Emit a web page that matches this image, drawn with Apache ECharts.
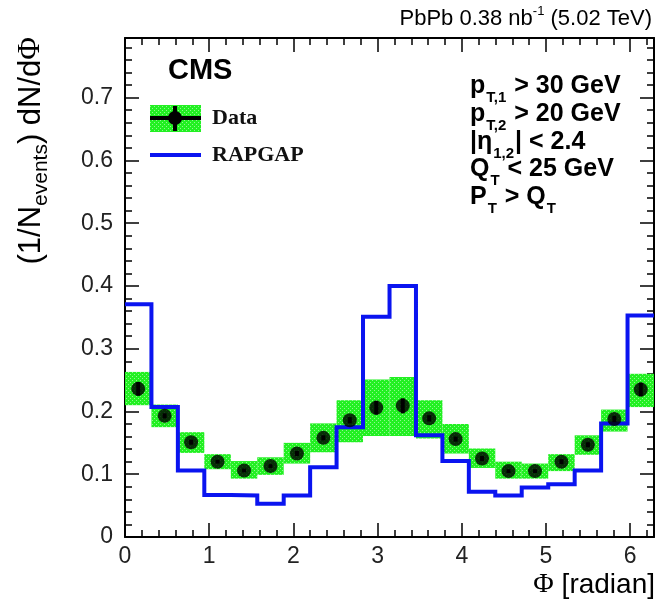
<!DOCTYPE html>
<html>
<head>
<meta charset="utf-8">
<script src="https://cdn.jsdelivr.net/npm/echarts@6/dist/echarts.min.js"></script>
<style>html,body{margin:0;padding:0;background:#fff}#c{width:658px;height:603px}</style>
</head>
<body>
<div id="c"></div>
<script>
// ---- data ----
const binEdges = [0,0.314,0.628,0.942,1.257,1.571,1.885,2.199,2.513,2.827,3.142,3.456,3.770,4.084,4.398,4.712,5.027,5.341,5.655,5.969,6.283];
const dataValues = [0.236,0.193,0.151,0.120,0.106,0.113,0.133,0.158,0.186,0.206,0.209,0.189,0.156,0.125,0.105,0.105,0.120,0.147,0.188,0.235];
const statErr = [0.011,0.004,0.004,0.003,0.003,0.003,0.004,0.004,0.005,0.011,0.012,0.005,0.004,0.004,0.003,0.003,0.004,0.004,0.005,0.011];
const systLow = [0.210,0.175,0.134,0.108,0.093,0.099,0.117,0.135,0.151,0.161,0.161,0.157,0.133,0.110,0.093,0.093,0.105,0.131,0.168,0.207];
const systHigh = [0.263,0.211,0.167,0.132,0.121,0.127,0.150,0.181,0.218,0.251,0.255,0.218,0.180,0.141,0.120,0.117,0.132,0.162,0.203,0.260];
const rapgap = [0.371,0.207,0.106,0.067,0.066,0.053,0.066,0.111,0.175,0.351,0.400,0.162,0.121,0.072,0.066,0.079,0.084,0.106,0.181,0.353];
const xTickLabels = ['0','1','2','3','4','5','6'];
const yTickLabels = ['0','0.1','0.2','0.3','0.4','0.5','0.6','0.7'];

// green dotted fill pattern
const pc = document.createElement('canvas');
pc.width = 4; pc.height = 4;
const pctx = pc.getContext('2d');
pctx.fillStyle = '#22f022'; pctx.fillRect(0,0,4,4);
pctx.fillStyle = '#8ef88e'; pctx.fillRect(0,0,1,1); pctx.fillRect(2,2,1,1);
const greenFill = {image: pc, repeat: 'repeat'};

const BLUE = '#0a14f0';
const FONT = '"Liberation Sans", Arial, Helvetica, sans-serif';
const SERIF = '"Liberation Serif", "Times New Roman", serif';

const bandData = dataValues.map((v,i)=>[binEdges[i], binEdges[i+1], systLow[i], systHigh[i]]);
const pointData = dataValues.map((v,i)=>[(binEdges[i]+binEdges[i+1])/2, v]);
const errData = dataValues.map((v,i)=>[(binEdges[i]+binEdges[i+1])/2, v-statErr[i], v+statErr[i]]);
const histData = rapgap.map((v,i)=>[binEdges[i], v]).concat([[binEdges[20], rapgap[19]]]);

function xAx(pos, interval, len, labels, line) {
  return {
    type: 'value', position: pos, min: 0, max: 6.2832, interval: interval,
    axisLine: {show: line, onZero: false, lineStyle: {color: '#000', width: 2}},
    axisTick: {show: true, inside: true, length: len, lineStyle: {color: '#000', width: 1.5}},
    axisLabel: {show: labels, margin: 8, fontSize: 23, fontFamily: FONT, color: '#222',
      formatter: v => { const s = String(Math.round(v)); return (Math.abs(v-Math.round(v))<1e-6 && xTickLabels.indexOf(s)>=0) ? s : ''; }},
    splitLine: {show: false}
  };
}
function yAx(pos, interval, len, labels, line) {
  return {
    type: 'value', position: pos, min: 0, max: 0.795, interval: interval,
    axisLine: {show: line, onZero: false, lineStyle: {color: '#000', width: 2}},
    axisTick: {show: true, inside: true, length: len, lineStyle: {color: '#000', width: 1.5}},
    axisLabel: {show: labels, margin: 12, fontSize: 23, fontFamily: FONT, color: '#222',
      formatter: v => { const s = (Math.round(v*10)/10).toString(); return (Math.abs(v*10-Math.round(v*10))<1e-6 && yTickLabels.indexOf(s)>=0) ? s : ''; }},
    splitLine: {show: false}
  };
}

const chart = echarts.init(document.getElementById('c'), null, {renderer: 'canvas'});
const cutLines = [
  ['{m|p}{s|T,1}{m| > 30 GeV}', 86],
  ['{m|p}{s|T,2}{m| > 20 GeV}', 114],
  ['{m||η}{s|1,2}{m|| < 2.4}', 142],
  ['{m|Q}{s|T}{m| < 25 GeV}', 169],
  ['{m|P}{s|T}{m| > Q}{s|T}', 197]
];
const cutRich = {
  m: {fontSize: 25, fontWeight: 'bold', fontFamily: FONT, color: '#000', lineHeight: 38, verticalAlign: 'middle'},
  s: {fontSize: 15, fontWeight: 'bold', fontFamily: FONT, color: '#000', lineHeight: 15, padding: [0, 1, 0, 1], verticalAlign: 'bottom'}
};
const graphics = [
  // top-right label
  {type: 'text', x: 652, y: 19, style: {text: '{m|PbPb 0.38 nb}{p|-1}{m| (5.02 TeV)}', align: 'right', verticalAlign: 'middle',
    rich: {m: {fontSize: 22, fontFamily: FONT, color: '#222', lineHeight: 28, verticalAlign: 'middle'},
           p: {fontSize: 13, fontFamily: FONT, color: '#222', lineHeight: 13, verticalAlign: 'top'}}}},
  // y title
  {type: 'text', x: 31, y: 37, rotation: Math.PI/2, style: {text: '{m|(1/N}{s|events}{m|) dN/d}{f|Φ}', align: 'right', verticalAlign: 'middle',
    rich: {m: {fontSize: 31, fontFamily: FONT, color: '#222', lineHeight: 42, verticalAlign: 'middle'},
           f: {fontSize: 31, fontFamily: SERIF, color: '#222', lineHeight: 42, verticalAlign: 'middle'},
           s: {fontSize: 21, fontFamily: FONT, color: '#222', lineHeight: 20, verticalAlign: 'bottom'}}}},
  // x title
  {type: 'text', x: 655, y: 585, style: {text: '{f|Φ}{m| [radian]}', align: 'right', verticalAlign: 'middle',
    rich: {m: {fontSize: 28, fontFamily: FONT, color: '#222'}, f: {fontSize: 28, fontFamily: SERIF, color: '#222'}}}},
  // CMS
  {type: 'text', x: 168, y: 71, style: {text: 'CMS', fontSize: 29, fontWeight: 'bold', fontFamily: FONT, fill: '#000', align: 'left', verticalAlign: 'middle'}},
  // legend: Data
  {type: 'rect', shape: {x: 150, y: 105, width: 51, height: 27}, style: {fill: greenFill}},
  {type: 'line', shape: {x1: 150, y1: 118, x2: 201, y2: 118}, style: {stroke: '#000', lineWidth: 4}},
  {type: 'line', shape: {x1: 175, y1: 106, x2: 175, y2: 131}, style: {stroke: '#000', lineWidth: 4}},
  {type: 'circle', shape: {cx: 175, cy: 118, r: 7}, style: {fill: '#000'}},
  {type: 'text', x: 212, y: 118, style: {text: 'Data', fontSize: 22, fontWeight: 'bold', fontFamily: SERIF, fill: '#111', verticalAlign: 'middle'}},
  // legend: RAPGAP
  {type: 'line', shape: {x1: 150, y1: 155, x2: 201, y2: 155}, style: {stroke: BLUE, lineWidth: 4}},
  {type: 'text', x: 212, y: 155, style: {text: 'RAPGAP', fontSize: 22, fontWeight: 'bold', fontFamily: SERIF, fill: '#111', verticalAlign: 'middle'}}
];
cutLines.forEach(([t, y]) => graphics.push({type: 'text', x: 470, y: y, style: {text: t, align: 'left', verticalAlign: 'middle', rich: cutRich}}));

chart.setOption({
  animation: false,
  backgroundColor: '#fff',
  grid: {left: 125, right: 4, top: 38, bottom: 66, containLabel: false},
  xAxis: [xAx('bottom', 1, 14, true, true), xAx('bottom', 0.2, 7, false, false), xAx('top', 1, 14, false, true), xAx('top', 0.2, 7, false, false)],
  yAxis: [yAx('left', 0.1, 14, true, true), yAx('left', 0.02, 7, false, false), yAx('right', 0.1, 14, false, true), yAx('right', 0.02, 7, false, false)],
  series: [
    {
      type: 'custom', name: 'syst', data: bandData, encode: {x: [0,1], y: [2,3]}, z: 1,
      renderItem: (params, api) => {
        const p1 = api.coord([api.value(0), api.value(3)]);
        const p2 = api.coord([api.value(1), api.value(2)]);
        return {type: 'rect', shape: {x: p1[0], y: p1[1], width: p2[0]-p1[0], height: p2[1]-p1[1]}, style: {fill: greenFill}};
      }
    },
    {
      type: 'line', name: 'RAPGAP', data: histData, step: 'end', showSymbol: false, z: 3,
      lineStyle: {color: BLUE, width: 4, join: 'miter'}, clip: true
    },
    {
      type: 'custom', name: 'stat', data: errData, encode: {x: 0, y: [1,2]}, z: 4,
      renderItem: (params, api) => {
        const a = api.coord([api.value(0), api.value(1)]);
        const b = api.coord([api.value(0), api.value(2)]);
        return {type: 'line', shape: {x1: a[0], y1: a[1], x2: b[0], y2: b[1]}, style: {stroke: '#000', lineWidth: 4}};
      }
    },
    {
      type: 'scatter', name: 'Data', data: pointData, symbol: 'circle', symbolSize: 14, z: 5,
      itemStyle: {color: '#000'}
    }
  ],
  graphic: graphics
});
</script>
</body>
</html>
